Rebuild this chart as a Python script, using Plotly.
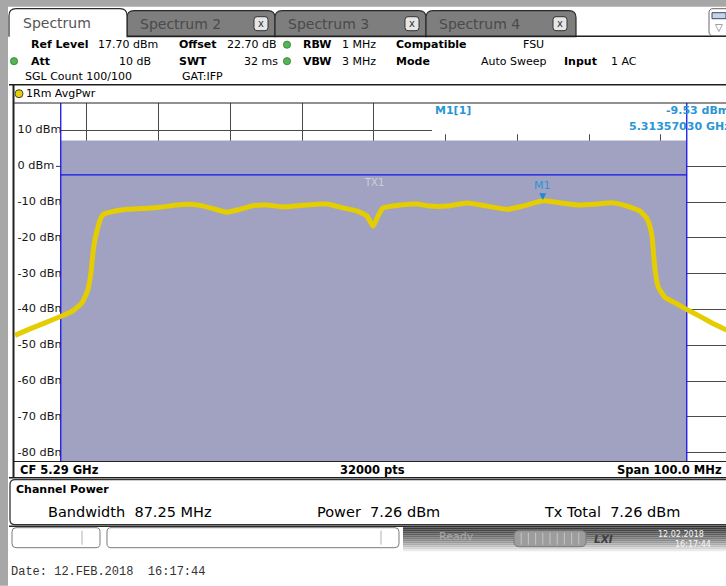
import re
import plotly.graph_objects as go

W, H = 726, 586

# ---------------- data ----------------
trace_freq_ghz = [
    5.24000, 5.24209, 5.24418, 5.24627, 5.24794, 5.24934, 5.25017, 5.25059,
    5.25087, 5.25115, 5.25143, 5.25185, 5.25226, 5.25324, 5.25561, 5.25784,
    5.26021, 5.26258, 5.26397, 5.26578, 5.26760, 5.26955, 5.27136, 5.27317,
    5.27512, 5.27735, 5.27972, 5.28348, 5.28571, 5.28767, 5.28906, 5.28990,
    5.29059, 5.29129, 5.29366, 5.29603, 5.29784, 5.30021, 5.30300, 5.30578,
    5.30857, 5.31080, 5.31357, 5.31638, 5.31875, 5.32111, 5.32334, 5.32530,
    5.32711, 5.32808, 5.32850, 5.32878, 5.32899, 5.32920, 5.32962, 5.33059,
    5.33199, 5.33366, 5.33547, 5.33756, 5.33909, 5.34000,
]
trace_level_dbm = [
    -47.2, -45.4, -43.7, -42.0, -40.5, -38.1, -34.4, -29.7,
    -24.1, -20.4, -18.0, -15.0, -13.5, -12.8, -12.0, -11.8,
    -11.4, -10.8, -10.6, -10.9, -11.8, -12.8, -12.0, -11.0,
    -10.8, -11.3, -10.9, -10.5, -11.6, -12.5, -13.9, -16.7,
    -13.9, -11.6, -10.8, -10.5, -11.1, -11.1, -10.2, -11.1,
    -12.0, -11.1, -9.6, -10.3, -10.8, -10.5, -10.2, -11.1,
    -12.5, -14.6, -16.8, -19.5, -24.1, -28.8, -33.5, -36.6,
    -38.1, -40.0, -41.9, -44.2, -45.6, -46.0,
]
ytick_dbm = [10, 0, -10, -20, -30, -40, -50, -60, -70, -80]
ytick_text = ["10 dBm", "0 dBm", "-10 dBm", "-20 dBm", "-30 dBm", "-40 dBm",
              "-50 dBm", "-60 dBm", "-70 dBm", "-80 dBm"]
ref_level_dbm = 17.70
range_db = 100.0
center_ghz = 5.29
span_mhz = 100.0
sweep_points = 32000
chan_bw_mhz = 87.25
chan_power_dbm = 7.26
tx_level_dbm = -2.4
marker_freq_ghz = 5.31357030
marker_level_dbm = -9.53

# ---------------- geometry of the analyser screen (pixels) ----------------
PL, PT, PB = 15, 103.3, 461.3
PW, PH = W - PL, PB - PT
GRID_W = 717.5                      # pixel width of the full span
span_ghz = span_mhz / 1000.0
f_start = center_ghz - span_ghz / 2
f_view_end = f_start + span_ghz * (W - PL) / GRID_W
y_hi = ref_level_dbm
y_lo = ref_level_dbm - range_db
chan_lo = center_ghz - chan_bw_mhz / 2000.0
chan_hi = center_ghz + chan_bw_mhz / 2000.0


def fx(xpx):
    return f_start + (xpx - PL) / GRID_W * span_ghz


def dy(ypx):
    return y_hi - (ypx - PT) / (PB - PT) * range_db


def X(x):
    return (x - PL) / PW


def Y(y):
    return (PB - y) / PH


FONT = "DejaVu Sans"
BLUE_TXT = "#2A96D6"


def conv_path(d):
    toks = re.findall(r"[MLQCZ]|-?\d+\.?\d*", d)
    out, is_x = [], True
    for t in toks:
        if t.isalpha():
            out.append(t)
            is_x = True
        else:
            v = float(t)
            out.append(f"{X(v):.6f}" if is_x else f"{Y(v):.6f}")
            is_x = not is_x
    return " ".join(out)


def rrect_d(x0, y0, x1, y1, r):
    return (f"M {x0 + r} {y0} L {x1 - r} {y0} Q {x1} {y0} {x1} {y0 + r} "
            f"L {x1} {y1 - r} Q {x1} {y1} {x1 - r} {y1} L {x0 + r} {y1} "
            f"Q {x0} {y1} {x0} {y1 - r} L {x0} {y0 + r} Q {x0} {y0} {x0 + r} {y0} Z")


shapes = []


def prect(x0, y0, x1, y1, fill, line=None, lw=0, layer="below"):
    shapes.append(dict(type="rect", xref="paper", yref="paper",
                       x0=X(x0), x1=X(x1), y0=Y(y1), y1=Y(y0),
                       fillcolor=fill, line=dict(color=line or fill, width=lw),
                       layer=layer))


def ppath(d, fill=None, line="#222", lw=1, layer="below"):
    s = dict(type="path", xref="paper", yref="paper", path=conv_path(d),
             line=dict(color=line, width=lw), layer=layer)
    if fill:
        s["fillcolor"] = fill
    shapes.append(s)


def pline(x0, y0, x1, y1, color="#222", lw=1, layer="below"):
    shapes.append(dict(type="line", xref="paper", yref="paper",
                       x0=X(x0), x1=X(x1), y0=Y(y0), y1=Y(y1),
                       line=dict(color=color, width=lw), layer=layer))


def pcircle(cx, cy, r, fill, line="#333", lw=1):
    shapes.append(dict(type="circle", xref="paper", yref="paper",
                       x0=X(cx - r), x1=X(cx + r), y0=Y(cy + r), y1=Y(cy - r),
                       fillcolor=fill, line=dict(color=line, width=lw), layer="above"))


annotations = []


def txt(x, y, s, size=11, color="#000", anchor="left", family=FONT, bold=False,
        italic=False):
    if bold:
        s = f"<b>{s}</b>"
    if italic:
        s = f"<i>{s}</i>"
    annotations.append(dict(xref="paper", yref="paper", x=X(x), y=Y(y),
                            text=s, showarrow=False, xanchor=anchor,
                            yanchor="middle",
                            font=dict(family=family, size=size, color=color)))


# ---------------- window chrome ----------------
prect(0, 0, W, 7, "#A7A7A7")
prect(0, 0, 8, H, "#A7A7A7")

# inactive tabs
for (x0, x1, label, xb) in [(127, 275, "Spectrum 2", 261), (275, 426, "Spectrum 3", 412),
                            (426, 576, "Spectrum 4", 560)]:
    ppath(f"M {x0} 37 L {x0} 18 Q {x0} 11 {x0 + 7} 11 L {x1 - 7} 11 Q {x1} 11 {x1} 18 L {x1} 37 Z",
          fill="#7E7E7E", line="#2a2a2a", lw=1.2)
    txt(x0 + 11, 24, label, size=14, color="#4a4a4a")
    ppath(rrect_d(xb - 7, 17, xb + 7, 31, 3), fill="#E6E6E6", line="#333", lw=1)
    txt(xb, 24, "x", size=10, color="#333", anchor="center")
# active tab
ppath("M 9 37 L 9 16 Q 9 9 16 9 L 120 9 Q 127 9 127 16 L 127 37", fill="#FFFFFF",
      line="#2a2a2a", lw=1.2)
txt(21, 23.5, "Spectrum", size=14, color="#555")
pline(127, 36.5, W, 36.5, "#1e1e1e", 1.5)
# top-right icon
ppath(rrect_d(709, 9, 733, 36, 4), fill="#FFFFFF", line="#666", lw=1)
prect(712, 13, 726, 19, "#C9D3E6", line="#3a4a6a", lw=1)
txt(719, 28, "▽", size=10, color="#556", anchor="center")

# header info rows
txt(29, 45, "Ref Level", bold=True)
txt(96, 45, f"{ref_level_dbm:.2f} dBm")
txt(177, 45, "Offset", bold=True)
txt(225, 45, "22.70 dB")
txt(301, 45, "RBW", bold=True)
txt(340, 45, "1 MHz")
txt(394, 45, "Compatible", bold=True)
txt(521, 45, "FSU")
txt(29, 61.5, "Att", bold=True)
txt(153, 61.5, "10 dB", anchor="right")
txt(177, 61.5, "SWT", bold=True)
txt(280, 61.5, "32 ms", anchor="right")
txt(301, 61.5, "VBW", bold=True)
txt(340, 61.5, "3 MHz")
txt(394, 61.5, "Mode", bold=True)
txt(549, 61.5, "Auto Sweep", anchor="right")
txt(562, 61.5, "Input", bold=True)
txt(609, 61.5, "1 AC")
txt(23, 76.5, "SGL Count 100/100")
txt(180, 76.5, "GAT:IFP")
for (cx, cy) in [(287, 45), (287, 61.5), (14, 61.5)]:
    pcircle(cx, cy, 3.6, "#55B455", line="#2f7f2f", lw=0.8)

# diagram title bar
pline(9, 85, W, 85, "#1e1e1e", 1.5)
pcircle(19, 94, 4, "#E8CF00", line="#444", lw=1)
txt(24, 94, "1Rm AvgPwr")
pline(13.5, 85, 13.5, 478, "#222", 2, layer="above")
pline(13, PT, W, PT, "#222", 1, layer="above")

# CF / span bar
pline(13, PB + 0.5, W, PB + 0.5, "#222", 1, layer="above")
pline(9, 478, W, 478, "#1e1e1e", 1.6)
txt(18, 470, f"CF {center_ghz:.2f} GHz", size=11.5, bold=True)
txt(372, 470, f"{sweep_points} pts", size=11.5, bold=True, anchor="center")
txt(724, 470, f"Span {span_mhz:.1f} MHz", size=11.5, bold=True, anchor="right")

# channel power panel
ppath(rrect_d(10, 480, 745, 525, 5), fill="#FFFFFF", line="#333", lw=1.3)
txt(14, 489.5, "Channel Power", size=11, bold=True)
NB = "\u00a0"
txt(46, 512, f"Bandwidth{NB}{NB}{chan_bw_mhz:.2f} MHz", size=14.5)
txt(315, 512, f"Power{NB}{NB}{chan_power_dbm:.2f} dBm", size=14.5)
txt(542, 512, f"Tx Total{NB}{NB}{chan_power_dbm:.2f} dBm", size=14.5)

# status bar
pline(9, 526.5, W, 526.5, "#2a2a2a", 1.5)
grads = ["#3c3c3c", "#474747", "#535353", "#5f5f5f", "#6c6c6c", "#7a7a7a",
         "#898989", "#9a9a9a", "#ababab", "#bfbfbf", "#d4d4d4", "#e9e9e9"]
for i, c in enumerate(grads):
    prect(403, 527.5 + 2 * i, W, 527.5 + 2 * i + 2.1, c)
ppath(rrect_d(12, 528, 100, 548, 4), fill="#FFFFFF", line="#7a7a7a", lw=1)
pline(82, 531, 82, 545, "#b0b0b0", 1)
ppath(rrect_d(107, 528, 399, 548, 4), fill="#FFFFFF", line="#7a7a7a", lw=1)
pline(381, 531, 381, 545, "#b0b0b0", 1)
txt(456, 537, "Ready", size=11, color="#a9a9a9", anchor="center")
ppath(rrect_d(514, 531, 586, 547, 5), fill="#9d9d9d", line="#7b7b7b", lw=1)
for k in range(1, 10):
    xs = 514 + k * 7.2
    pline(xs, 533, xs, 545, "#c4c4c4", 1)
txt(603, 539, "LXI", size=10.5, color="#3e3e3e", anchor="center", bold=True, italic=True)
txt(681, 534.5, "12.02.2018", size=8, color="#f6f6f6", anchor="center")
txt(693, 545, "16:17:44", size=8, color="#f6f6f6", anchor="center")

# date line
txt(9, 572, "Date: 12.FEB.2018\u00a0\u00a016:17:44", size=12, color="#333",
    family="Liberation Mono")

# ---------------- shapes inside the diagram (data coordinates) ----------------
shapes += [
    # white background under the level labels
    dict(type="rect", xref="x", yref="y", x0=f_start, x1=chan_lo, y0=y_lo, y1=y_hi,
         fillcolor="#FFFFFF", line=dict(width=0), layer="between"),
    # white marker-info field
    dict(type="rect", xref="x", yref="y", x0=fx(432), x1=f_view_end, y0=dy(134.5), y1=y_hi,
         fillcolor="#FFFFFF", line=dict(width=0), layer="between"),
    # channel power bar
    dict(type="rect", xref="x", yref="y", x0=chan_lo, x1=chan_hi, y0=y_lo, y1=chan_power_dbm,
         fillcolor="#A1A1C1", line=dict(width=0), layer="between"),
    # channel limit lines
    dict(type="line", xref="x", yref="y", x0=chan_lo, x1=chan_lo, y0=y_lo, y1=y_hi,
         line=dict(color="#1414F0", width=1.3), layer="between"),
    dict(type="line", xref="x", yref="y", x0=chan_hi, x1=chan_hi, y0=y_lo, y1=y_hi,
         line=dict(color="#1414F0", width=1.3), layer="between"),
    dict(type="line", xref="x", yref="y", x0=chan_lo, x1=chan_hi, y0=tx_level_dbm,
         y1=tx_level_dbm, line=dict(color="#1414F0", width=1.3), layer="between"),
    # tick dash at 0 dBm
    dict(type="line", xref="x", yref="y", x0=fx(56), x1=chan_lo, y0=0, y1=0,
         line=dict(color="#333", width=1), layer="above"),
]

# data-anchored annotations
annotations += [
    dict(xref="x", yref="y", x=center_ghz, y=tx_level_dbm, yshift=-8, text="TX1",
         showarrow=False, font=dict(family=FONT, size=10, color="#CFCFDA")),
    dict(xref="x", yref="y", x=marker_freq_ghz, y=marker_level_dbm, yshift=4, text="▼",
         showarrow=False, font=dict(family=FONT, size=9, color="#1E8AD6")),
    dict(xref="x", yref="y", x=marker_freq_ghz, y=marker_level_dbm, yshift=15, text="M1",
         showarrow=False, font=dict(family=FONT, size=11, color=BLUE_TXT)),
]
txt(433, 111, "M1[1]", size=11, color=BLUE_TXT, bold=True)
txt(731, 111, f"{marker_level_dbm:.2f} dBm", size=11, color=BLUE_TXT, bold=True, anchor="right")
txt(733, 126.5, f"{marker_freq_ghz:.8f} GHz", size=11, color=BLUE_TXT, bold=True, anchor="right")

# ---------------- traces ----------------
fig = go.Figure()
fig.add_trace(go.Scatter(
    x=trace_freq_ghz, y=trace_level_dbm, mode="lines",
    line=dict(color="#E4CD00", width=5, shape="spline", smoothing=0.5),
    hoverinfo="skip", showlegend=False))
fig.add_trace(go.Scatter(
    x=[17.5] * len(ytick_dbm), y=ytick_dbm, mode="text", text=ytick_text,
    textposition="middle right", cliponaxis=True,
    textfont=dict(family=FONT, size=11.3, color="#151515"),
    xaxis="x2", yaxis="y2", hoverinfo="skip", showlegend=False))

fig.update_layout(
    width=W, height=H,
    margin=dict(l=PL, r=0, t=PT, b=H - PB, pad=0, autoexpand=False),
    paper_bgcolor="#FFFFFF", plot_bgcolor="rgba(0,0,0,0)",
    showlegend=False,
    xaxis=dict(range=[f_start, f_view_end], showgrid=True, gridcolor="#4a4a4a",
               gridwidth=1, tick0=f_start, dtick=span_ghz / 10, showticklabels=False,
               ticks="", zeroline=False, showline=False, fixedrange=True),
    yaxis=dict(range=[y_lo, y_hi], showgrid=True, gridcolor="#4a4a4a", gridwidth=1,
               tick0=0, dtick=10, showticklabels=False, ticks="", zeroline=False,
               showline=False, fixedrange=True),
    xaxis2=dict(domain=[0, (60.5 - PL) / PW], range=[PL, 60.5], visible=False,
                anchor="y2", fixedrange=True),
    yaxis2=dict(domain=[0, 1], range=[y_lo, y_hi], visible=False, anchor="x2",
                fixedrange=True),
    shapes=shapes,
    annotations=annotations,
)

fig.write_html("out.html", config={"displayModeBar": False},
               post_script="document.body.style.margin='0';document.body.style.overflow='hidden';")
